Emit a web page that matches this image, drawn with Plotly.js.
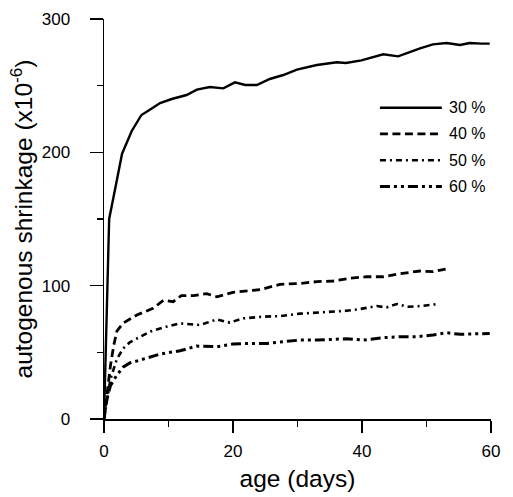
<!DOCTYPE html>
<html>
<head>
<meta charset="utf-8">
<script src="https://cdn.plot.ly/plotly-3.0.1.min.js"></script>
<style>html,body{margin:0;padding:0;background:#fff;}#chart{width:513px;height:497px;}</style>
</head>
<body>
<div id="chart"></div>
<script>
// ---- data ----
const seriesNames = ['30 %', '40 %', '50 %', '60 %'];

const age30 = [0, 0.4, 0.8, 1.7, 2.8, 4.3, 5.8, 7.1, 8.7, 10.5, 12.8, 14.4, 16.4, 18.5, 20.3, 21.9, 23.7, 25.7, 27.8, 29.9, 33.0, 36.1, 37.5, 39.9, 41.5, 43.3, 45.6, 47.2, 49.0, 51.0, 53.1, 55.2, 56.7, 58.5, 59.8];
const shr30 = [0, 80, 150, 172, 199, 216, 228, 232, 237, 240, 243, 247, 249, 248, 252.5, 250.5, 250.5, 255, 258, 262, 265.5, 267.5, 267, 269, 271, 273.5, 272, 275, 278, 281, 282, 280.5, 282, 281.5, 281.5];

const age40 = [0, 0.5, 1, 1.5, 2, 3, 4, 5.1, 7.6, 9.2, 10.7, 12, 13.9, 15.9, 17.5, 20, 24.2, 27.3, 30.4, 33, 35.5, 38.1, 40.7, 43.3, 45.9, 49, 51, 53.5];
const shr40 = [0, 22, 40, 55, 66, 72, 75, 78, 83, 89, 88, 92.5, 92.5, 94, 91.7, 95, 97, 101, 101.7, 103, 103.5, 105.5, 106.7, 106.7, 109, 111, 110.5, 113];

const age50 = [0, 0.5, 1, 2, 3, 4, 5.5, 7.1, 9.2, 11.8, 14.9, 17.5, 19.5, 21.6, 24.7, 27.3, 30.4, 33, 35.5, 37.6, 39.7, 42.3, 43.8, 45.4, 47.2, 49, 51.8];
const shr50 = [0, 15, 30, 45, 53, 57.5, 61.5, 65.5, 68.7, 71.7, 70.5, 74.7, 72.3, 75.5, 76.7, 77.2, 79, 79.7, 80.5, 81.2, 82.5, 84.7, 83.7, 86.2, 84.2, 84.7, 86.2];

const age60 = [0, 0.4, 1, 2, 3, 4, 5.6, 8.7, 11.8, 14.4, 17.5, 20, 22.6, 25.2, 27.8, 30.4, 33, 35.5, 37.6, 40.2, 43.3, 45.9, 48.5, 51, 53.1, 55.2, 57.5, 59.8];
const shr60 = [0, 14, 25, 33, 39, 42, 44.2, 48.7, 51.2, 54.7, 54.2, 56.2, 56.7, 56.7, 58, 59.2, 59.2, 59.7, 60.2, 59.2, 61, 61.7, 61.7, 63, 64.7, 63.5, 64, 64.2];

const xTicks = [0, 20, 40, 60];
const yTicks = [0, 100, 200, 300];

// ---- styles ----
const dashes = ['solid', '8px,4.5px', '6px,4px,2px,4px', '10px,4px,3px,4px,3px,4px'];
const widths = [2.4, 2.8, 2.6, 3.0];
const xs = [age30, age40, age50, age60];
const ys = [shr30, shr40, shr50, shr60];

const traces = seriesNames.map((n, i) => ({
  x: xs[i], y: ys[i], name: n, type: 'scatter', mode: 'lines',
  line: {color: '#000', width: widths[i], dash: dashes[i], shape: 'linear'},
  showlegend: false
}));

// hand-drawn legend (long line samples as in the reference)
const legY = [0.778, 0.713, 0.647, 0.581];
const shapes = seriesNames.map((n, i) => ({
  type: 'line', xref: 'paper', yref: 'paper',
  x0: 0.713, x1: 0.873, y0: legY[i], y1: legY[i],
  line: {color: '#000', width: widths[i], dash: dashes[i]}
}));
const annotations = seriesNames.map((n, i) => ({
  xref: 'paper', yref: 'paper', x: 0.887, y: legY[i],
  xanchor: 'left', yanchor: 'middle', showarrow: false, text: n,
  font: {family: 'Liberation Sans, Arial, sans-serif', size: 16, color: '#000'}
}));

const tickFont = {family: 'Liberation Sans, Arial, sans-serif', size: 17, color: '#000'};
const titleFont = {family: 'Liberation Sans, Arial, sans-serif', size: 24.5, color: '#000'};

const layout = {
  width: 513, height: 497,
  margin: {l: 104, r: 22, t: 19, b: 78, pad: 0},
  paper_bgcolor: '#fff', plot_bgcolor: '#fff',
  showlegend: false,
  xaxis: {
    range: [0, 60], tickvals: xTicks, ticktext: xTicks.map(String),
    ticks: 'outside', ticklen: 12, tickwidth: 1.5, tickcolor: '#000',
    minor: {dtick: 10, tick0: 0, ticks: 'outside', ticklen: 6, tickwidth: 1.5, tickcolor: '#000', showgrid: false},
    showline: true, linecolor: '#000', linewidth: 1.5,
    showgrid: false, zeroline: false, automargin: false,
    tickfont: tickFont, ticklabelstandoff: 4,
    title: {text: 'age (days)', font: titleFont, standoff: 10}
  },
  yaxis: {
    range: [0, 300], tickvals: yTicks, ticktext: yTicks.map(String),
    ticks: 'outside', ticklen: 13, tickwidth: 1.5, tickcolor: '#000',
    minor: {dtick: 50, tick0: 0, ticks: 'outside', ticklen: 6, tickwidth: 1.5, tickcolor: '#000', showgrid: false},
    showline: true, linecolor: '#000', linewidth: 1.5,
    showgrid: false, zeroline: false, automargin: false,
    tickfont: tickFont, ticklabelstandoff: 16,
    title: {text: 'autogenous shrinkage (x10<sup>-6</sup>)', font: titleFont, standoff: 2}
  },
  shapes: shapes,
  annotations: annotations
};

Plotly.newPlot('chart', traces, layout, {displayModeBar: false, staticPlot: true});
</script>
</body>
</html>
